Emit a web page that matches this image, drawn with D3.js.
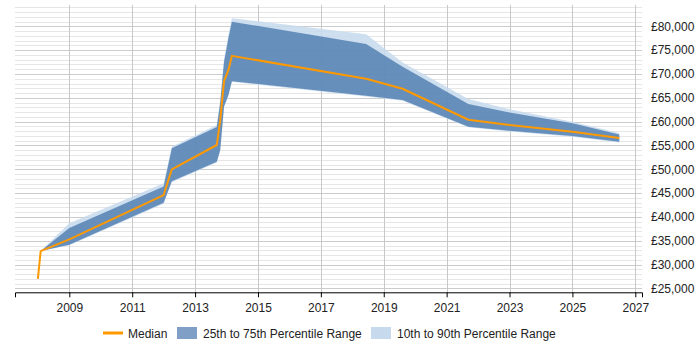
<!DOCTYPE html>
<html>
<head>
<meta charset="utf-8">
<script src="https://cdn.jsdelivr.net/npm/d3@7"></script>
<style>
	body { margin: 0; background: #fff; }
	svg text { font-family: "Liberation Sans", Arial, sans-serif; font-size: 12px; fill: #222; }
</style>
</head>
<body>
<svg id="chart" width="700" height="350"></svg>
<script>
// time points (decimal years)
var years = [2008.0, 2008.09, 2009.0, 2012.0, 2012.26, 2013.69, 2013.8, 2013.92, 2014.06, 2014.17, 2018.44, 2019.6, 2021.69, 2023.0, 2025.0, 2026.49];
// series values
var median = [27000, 32850, 35300, 44600, 50000, 55100, 60300, 68500, 70800, 73800, 69000, 66900, 60400, 59300, 57900, 56550];
var p25 = [null, 32850, 34200, 43000, 47500, 51600, 54050, 63200, 65600, 68500, 65450, 64540, 58940, 58100, 57000, 55800];
var p75 = [null, 32850, 37700, 46400, 54400, 58900, 64000, 72500, 77500, 80970, 76300, 71500, 63700, 61900, 59650, 57300];
var p10 = [null, 32850, 34050, 42800, 47300, 51450, 53900, 63000, 65450, 68350, 65300, 64400, 58800, 57950, 56850, 55650];
var p90 = [null, 32850, 38700, 47100, 54750, 59300, 64500, 73000, 78200, 81700, 78350, 72400, 64750, 62600, 60000, 57600];
// tick labels
var xTicks = [2009, 2011, 2013, 2015, 2017, 2019, 2021, 2023, 2025, 2027];
var yTicks = [25000, 30000, 35000, 40000, 45000, 50000, 55000, 60000, 65000, 70000, 75000, 80000];
var legendLabels = ['Median', '25th to 75th Percentile Range', '10th to 90th Percentile Range'];

var svg = d3.select('#chart');

var plotL = 15, plotR = 642, plotT = 5, plotB = 292.3;

var x = d3.scaleLinear().domain([2007.273, 2027.213]).range([plotL, plotR]);
var y = d3.scaleLinear().domain([24200, 84470]).range([plotB, plotT]);

var rows = years.map(function(t, i){
	return {t: t, med: median[i], lo: p25[i], hi: p75[i], lo2: p10[i], hi2: p90[i]};
});

// grid
var grid = svg.append('g');
grid.selectAll('line.minor')
	.data(d3.range(25000, 84001, 1000).filter(function(v){ return v % 5000 !== 0; }))
	.enter().append('line')
	.attr('x1', plotL).attr('x2', plotR)
	.attr('y1', function(d){ return Math.round(y(d)) + 0.5; })
	.attr('y2', function(d){ return Math.round(y(d)) + 0.5; })
	.attr('stroke', '#e6e6e6').attr('stroke-width', 1);
grid.selectAll('line.major')
	.data(yTicks)
	.enter().append('line')
	.attr('x1', plotL).attr('x2', plotR)
	.attr('y1', function(d){ return Math.round(y(d)) + 0.5; })
	.attr('y2', function(d){ return Math.round(y(d)) + 0.5; })
	.attr('stroke', '#cccccc').attr('stroke-width', 1);
grid.selectAll('line.vert')
	.data(xTicks)
	.enter().append('line')
	.attr('x1', function(d){ return Math.round(x(d)) + 0.5; })
	.attr('x2', function(d){ return Math.round(x(d)) + 0.5; })
	.attr('y1', plotT).attr('y2', plotB)
	.attr('stroke', '#c8c8c8').attr('stroke-width', 1);

// bands
var band90 = d3.area()
	.defined(function(d){ return d.lo2 !== null; })
	.x(function(d){ return x(d.t); })
	.y0(function(d){ return y(d.lo2); })
	.y1(function(d){ return y(d.hi2); });
var band75 = d3.area()
	.defined(function(d){ return d.lo !== null; })
	.x(function(d){ return x(d.t); })
	.y0(function(d){ return y(d.lo); })
	.y1(function(d){ return y(d.hi); });

svg.append('path').datum(rows)
	.attr('d', band90)
	.attr('fill', '#c6d9ed').attr('opacity', 0.85);
svg.append('path').datum(rows)
	.attr('d', band75)
	.attr('fill', '#3f70a8').attr('opacity', 0.72);

// median line
var line = d3.line()
	.x(function(d){ return x(d.t); })
	.y(function(d){ return y(d.med); });
svg.append('path').datum(rows)
	.attr('d', line)
	.attr('fill', 'none')
	.attr('stroke', '#ff9900')
	.attr('stroke-width', 2)
	.attr('stroke-linejoin', 'round');

// x axis
var xAxis = d3.axisBottom(x)
	.tickValues(xTicks)
	.tickFormat(d3.format('d'))
	.tickSizeOuter(0)
	.tickSize(5);
var gx = svg.append('g')
	.attr('transform', 'translate(0,' + plotB + ')')
	.call(xAxis);
gx.select('.domain').attr('stroke', '#000');
gx.selectAll('.tick line').attr('stroke', '#000');
gx.selectAll('.tick text')
	.attr('dy', '0.95em')
	.style('font-size', '12px')
	.style('font-family', '"Liberation Sans", Arial, sans-serif')
	.attr('fill', '#222');

// y axis (labels only, right side)
var gy = svg.append('g')
	.attr('transform', 'translate(' + plotR + ',0)')
	.call(d3.axisRight(y).tickValues(yTicks).tickSize(0).tickPadding(9)
		.tickFormat(function(d){ return '\u00a3' + d3.format(',')(d); }));
gy.select('.domain').remove();
gy.selectAll('.tick text')
	.style('font-size', '12px')
	.style('font-family', '"Liberation Sans", Arial, sans-serif')
	.attr('fill', '#222');

// legend
var leg = svg.append('g').attr('transform', 'translate(0,333)');
leg.append('line')
	.attr('x1', 103).attr('x2', 123).attr('y1', 0).attr('y2', 0)
	.attr('stroke', '#ff9900').attr('stroke-width', 3);
leg.append('text').attr('x', 128).attr('y', 4.5).text(legendLabels[0]);
leg.append('rect').attr('x', 177).attr('y', -6).attr('width', 20).attr('height', 12)
	.attr('fill', '#809fc6');
leg.append('text').attr('x', 203).attr('y', 4.5).text(legendLabels[1]);
leg.append('rect').attr('x', 371).attr('y', -6).attr('width', 20).attr('height', 12)
	.attr('fill', '#c6d9ed');
leg.append('text').attr('x', 397).attr('y', 4.5).text(legendLabels[2]);
</script>
</body>
</html>
